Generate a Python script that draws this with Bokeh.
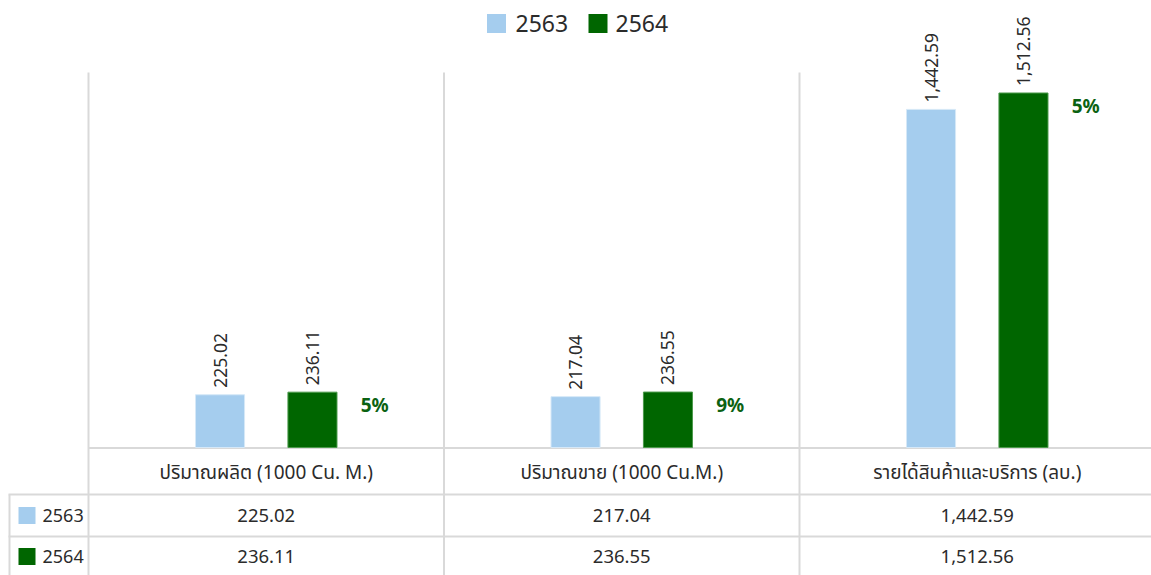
from bokeh.plotting import figure
from bokeh.models import Range1d, ColumnDataSource
from bokeh.core.properties import value
from bokeh.embed import file_html
from bokeh.resources import INLINE
import math

# ---- data ----
categories = ["ปริมาณผลิต (1000 Cu. M.)", "ปริมาณขาย (1000 Cu.M.)", "รายได้สินค้าและบริการ (ลบ.)"]
series_names = ["2563", "2564"]
values_2563 = [225.02, 217.04, 1442.59]
values_2564 = [236.11, 236.55, 1512.56]
growth_labels = ["5%", "9%", "5%"]
colors = ["#A5CDEE", "#006600"]

FONT = "Noto Sans, Noto Sans Thai, Tahoma, sans-serif"
TXT = "#2B2B2B"
GRID = "#D9D9D9"

W, H = 1151, 575
left_px = 88
cat_px = 355.5
baseline_px = 447
px_per_unit = 375 / 1600.0
ytop = baseline_px / px_per_unit
ybot = -(H - baseline_px) / px_per_unit

p = figure(width=W, height=H,
           x_range=Range1d(-left_px / cat_px, (W - left_px) / cat_px),
           y_range=Range1d(ybot, ytop),
           output_backend="svg", toolbar_location=None, min_border=0,
           x_axis_type=None, y_axis_type=None)
p.extra_x_ranges = {"px": Range1d(0, W)}
p.extra_y_ranges = {"px": Range1d(H, 0)}
p.xgrid.visible = False
p.ygrid.visible = False
p.outline_line_color = None
p.background_fill_color = "white"
p.border_fill_color = "white"

n = len(categories)
centers = [i + 0.5 for i in range(n)]
off = 0.13
bw = 0.138

# vertical separators (chart + table)
p.segment(x0=list(range(n)), x1=list(range(n)), y0=[72] * n, y1=[H] * n,
          y_range_name="px", line_color=GRID, line_width=2)
p.segment(x0=[9], x1=[9], y0=[494], y1=[H], x_range_name="px", y_range_name="px",
          line_color=GRID, line_width=2)
# horizontal table lines
p.segment(x0=[88, 8, 8], x1=[W, W, W], y0=[447.5, 494, 536], y1=[447.5, 494, 536],
          x_range_name="px", y_range_name="px", line_color=GRID, line_width=2)

# bars
s1 = ColumnDataSource(dict(x=[c - off for c in centers], top=values_2563,
                           lab=[f"{v:,.2f}" for v in values_2563]))
s2 = ColumnDataSource(dict(x=[c + off for c in centers], top=values_2564,
                           lab=[f"{v:,.2f}" for v in values_2564]))
p.vbar(x="x", top="top", bottom=0, width=bw, source=s1, fill_color=colors[0],
       line_color="#D6E8F7", line_width=1)
p.vbar(x="x", top="top", bottom=0, width=bw, source=s2, fill_color=colors[1],
       line_color="#4C9A4C", line_width=1)

# rotated value labels
for s in (s1, s2):
    p.text(x="x", y="top", text="lab", source=s, angle=math.pi / 2,
           text_align="left", text_baseline="middle", y_offset=-7,
           text_font=value(FONT), text_font_size="17.5px", text_color=TXT)

# growth labels
p.text(x=[c + 0.305 for c in centers], y=values_2564, text=growth_labels,
       text_align="center", text_baseline="middle", y_offset=13,
       text_font=value(FONT), text_font_size="19px", text_font_style="bold",
       text_color="#0B6212")

# table: category header
p.text(x=centers, y=[471] * n, text=categories, y_range_name="px",
       text_align="center", text_baseline="middle",
       text_font=value(FONT), text_font_size="19px", text_color=TXT)
# table values
rows_y = [515, 556]
for vals, ry in zip((values_2563, values_2564), rows_y):
    p.text(x=centers, y=[ry] * n, text=[f"{v:,.2f}" for v in vals], y_range_name="px",
           text_align="center", text_baseline="middle",
           text_font=value(FONT), text_font_size="18.5px", text_color=TXT)
# table legend keys
p.rect(x=[26.5, 26.5], y=rows_y, width=17, height=17, x_range_name="px", y_range_name="px",
       fill_color=colors, line_color=None)
p.text(x=[42, 42], y=rows_y, text=series_names, x_range_name="px", y_range_name="px",
       text_align="left", text_baseline="middle",
       text_font=value(FONT), text_font_size="18px", text_color=TXT)

# top legend
p.rect(x=[496, 597.5], y=[23, 23], width=19, height=19, x_range_name="px", y_range_name="px",
       fill_color=colors, line_color=None)
p.text(x=[515, 615], y=[23, 23], text=series_names, x_range_name="px", y_range_name="px",
       text_align="left", text_baseline="middle",
       text_font=value(FONT), text_font_size="23px", text_color=TXT)

open("out.html", "w").write(file_html(p, INLINE))
